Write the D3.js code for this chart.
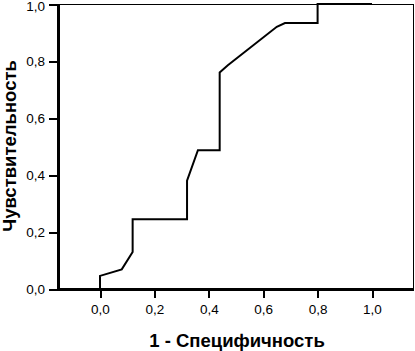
<!DOCTYPE html>
<html>
<head>
<meta charset="utf-8">
<script src="https://cdn.jsdelivr.net/npm/d3@7"></script>
<style>
  body { margin: 0; background: #fff; }
  svg { display: block; }
  .tick text { font-family: "Liberation Sans", Arial, sans-serif; font-size: 13.5px; fill: #000; }
  .title { font-family: "Liberation Sans", Arial, sans-serif; font-size: 18.5px; font-weight: bold; fill: #000; }
</style>
</head>
<body>
<div id="chart"></div>
<script>
// ROC curve points (1 - specificity, sensitivity)
const fpr = [0, 0, 0.08, 0.12, 0.12, 0.32, 0.32, 0.36, 0.44, 0.44, 0.47, 0.65, 0.68, 0.80, 0.80, 1.0];
const tpr = [0, 0.046, 0.069, 0.13, 0.245, 0.245, 0.38, 0.487, 0.487, 0.76, 0.785, 0.92, 0.933, 0.933, 1.0, 1.0];
const xTicks = [0, 0.2, 0.4, 0.6, 0.8, 1.0];
const yTicks = [0, 0.2, 0.4, 0.6, 0.8, 1.0];
const xTitle = '1 - Специфичность';
const yTitle = 'Чувствительность';

const width = 415, height = 351;
const frame = {left: 58, right: 413, top: 4, bottom: 289};

const sx = d3.scaleLinear().domain([0, 1]).range([100, 372]);
const sy = d3.scaleLinear().domain([0, 1]).range([frame.bottom, frame.top]);
const fmt = d => d.toFixed(1).replace('.', ',');

const svg = d3.select('#chart')
  .append('svg')
    .attr('width', width)
    .attr('height', height);

// thin frame on top and right
svg.append('rect')
  .attr('x', frame.left + 0.5)
  .attr('y', frame.top + 0.5)
  .attr('width', frame.right - frame.left)
  .attr('height', frame.bottom - frame.top)
  .attr('fill', 'none')
  .attr('stroke', '#000')
  .attr('stroke-width', 1)
  .attr('shape-rendering', 'crispEdges');

let x_axis = d3.axisBottom(sx).tickValues(xTicks).tickFormat(fmt).tickSize(9).tickPadding(6);
let y_axis = d3.axisLeft(sy).tickValues(yTicks).tickFormat(fmt).tickSize(9).tickPadding(4);

svg.append('g')
  .attr('class', 'x axis')
  .attr('transform', `translate(0,${frame.bottom})`)
  .call(x_axis)
  .call(g => g.select('.domain').remove())
  .call(g => g.selectAll('.tick line').attr('stroke-width', 2).attr('shape-rendering', 'crispEdges'));

svg.append('g')
  .attr('class', 'y axis')
  .attr('transform', `translate(${frame.left},0)`)
  .call(y_axis)
  .call(g => g.select('.domain').remove())
  .call(g => g.selectAll('.tick line').attr('stroke-width', 2).attr('shape-rendering', 'crispEdges'))
  // keep the top label inside the picture
  .call(g => g.selectAll('.tick text').filter(d => d === 1).attr('dy', '0.45em'));

// thick axis lines
svg.append('line')
  .attr('x1', frame.left).attr('x2', frame.right + 1)
  .attr('y1', frame.bottom).attr('y2', frame.bottom)
  .attr('stroke', '#000').attr('stroke-width', 3)
  .attr('shape-rendering', 'crispEdges');

svg.append('line')
  .attr('x1', frame.left).attr('x2', frame.left)
  .attr('y1', frame.top).attr('y2', frame.bottom + 1)
  .attr('stroke', '#000').attr('stroke-width', 3)
  .attr('shape-rendering', 'crispEdges');

const line = d3.line()
  .x(i => sx(fpr[i]))
  .y(i => sy(tpr[i]));

svg.append('path')
  .datum(d3.range(fpr.length))
  .attr('d', line)
  .attr('fill', 'none')
  .attr('stroke', '#000')
  .attr('stroke-width', 2);

svg.append('text')
  .attr('class', 'title')
  .attr('x', 237)
  .attr('y', 347)
  .attr('text-anchor', 'middle')
  .text(xTitle);

svg.append('text')
  .attr('class', 'title')
  .attr('transform', `translate(16,146) rotate(-90)`)
  .attr('text-anchor', 'middle')
  .text(yTitle);
</script>
</body>
</html>
